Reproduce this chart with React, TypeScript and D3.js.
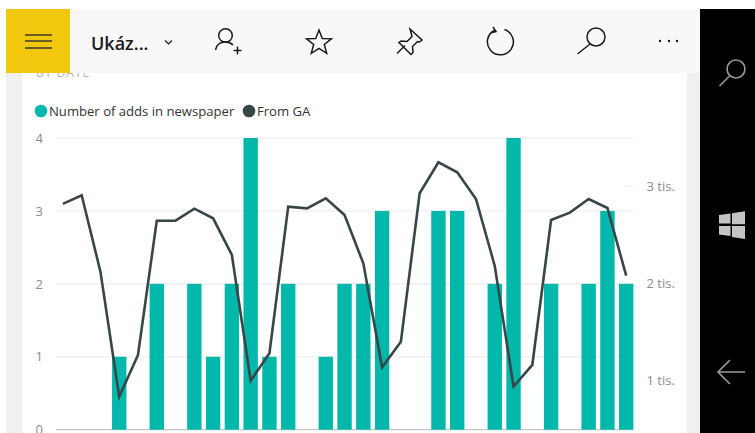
import * as d3 from "d3";
import { useEffect, useRef } from "react";

// values
const days = d3.range(1, 32);
const adds = [0, 0, 0, 1, 0, 2, 0, 2, 1, 2, 4, 1, 2, 0, 1, 2, 2, 3, 0, 0, 3, 3, 0, 2, 4, 0, 2, 0, 2, 3, 2];
const fromGA = [
  2818, 2907, 2120, 831, 1261, 2645, 2645, 2769, 2670, 2292, 996, 1278, 2790, 2773, 2876, 2704,
  2206, 1134, 1398, 2928, 3247, 3144, 2869, 2178, 934, 1158, 2653, 2728, 2869, 2776, 2078,
];
const leftTicks = [0, 1, 2, 3, 4];
const rightTicks = [1000, 2000, 3000];
const legendNames = ["Number of adds in newspaper", "From GA"];

const TEAL = "#01B8AA";
const DARK = "#374649";
const FONT = "'Open Sans', 'Noto Sans', sans-serif";

function App() {
  const ref = useRef<SVGSVGElement>(null);

  useEffect(() => {
    const svg = d3.select(ref.current);
    svg.selectAll("*").remove();

    const top = 138;
    const bottom = 429.7;

    // Scales
    const x = d3.scaleBand<number>().domain(days).range([53.5, 635.6]).paddingInner(0.235).paddingOuter(0.1175);
    const y = d3.scaleLinear().domain([0, 4]).range([bottom, top]);
    const y2 = d3.scaleLinear().domain([490, 3498]).range([bottom, top]);

    // page background panels
    svg.append("rect").attr("width", 755).attr("height", 433).attr("fill", "#fff");
    svg.append("rect").attr("x", 6).attr("y", 9).attr("width", 694).attr("height", 424).attr("fill", "#f0f0f0");
    svg.append("rect").attr("x", 22).attr("y", 60).attr("width", 665).attr("height", 373).attr("fill", "#fff");

    // clipped card title under the app bar
    svg.append("text").attr("x", 36).attr("y", 76.5).attr("font-family", FONT).attr("font-size", 12)
      .attr("letter-spacing", 1).attr("fill", "#b5b5b5").text("BY DATE");

    // Left axis + gridlines
    const leftAxis = d3.axisLeft(y).tickValues(leftTicks).tickSize(0).tickPadding(0).tickFormat(d3.format("d"));
    const gl = svg.append("g").attr("transform", "translate(43,0)").call(leftAxis);
    gl.select(".domain").remove();
    gl.selectAll("text").attr("font-family", FONT).attr("font-size", 13).attr("fill", "#8c8c8c");

    svg.append("g").selectAll("line").data(leftTicks.slice(1)).enter().append("line")
      .attr("x1", 56).attr("x2", 633)
      .attr("y1", (d) => y(d)).attr("y2", (d) => y(d))
      .attr("stroke", "#f0f0f0").attr("stroke-width", 1.5);
    svg.append("line").attr("x1", 56).attr("x2", 633).attr("y1", y(0)).attr("y2", y(0))
      .attr("stroke", "#b8b8b8").attr("stroke-width", 1);

    // short stub of the right axis gridline
    svg.append("line").attr("x1", 625).attr("x2", 633).attr("y1", y2(3000)).attr("y2", y2(3000))
      .attr("stroke", "#ececec").attr("stroke-width", 1.5);

    // Right axis
    const rightAxis = d3.axisRight(y2).tickValues(rightTicks).tickSize(0).tickPadding(0)
      .tickFormat((d) => `${+d / 1000} tis.`);
    const gr = svg.append("g").attr("transform", "translate(646.5,0)").call(rightAxis);
    gr.select(".domain").remove();
    gr.selectAll("text").attr("font-family", FONT).attr("font-size", 13).attr("fill", "#8c8c8c");

    // Bars
    svg.append("g").selectAll("rect").data(days.filter((_, i) => adds[i] > 0)).enter().append("rect")
      .attr("x", (d) => x(d) as number)
      .attr("width", x.bandwidth())
      .attr("y", (d) => y(adds[d - 1]))
      .attr("height", (d) => bottom - y(adds[d - 1]))
      .attr("fill", TEAL);

    // Line
    const line = d3.line<number>()
      .x((d) => (x(d) as number) + x.bandwidth() / 2)
      .y((d) => y2(fromGA[d - 1]));
    svg.append("path").datum(days).attr("d", line).attr("fill", "none")
      .attr("stroke", DARK).attr("stroke-width", 2.6).attr("stroke-linejoin", "miter");

    // Legend
    const legendX = [41, 249];
    const legendColors = [TEAL, DARK];
    legendNames.forEach((name, i) => {
      svg.append("circle").attr("cx", legendX[i]).attr("cy", 111).attr("r", 6.3).attr("fill", legendColors[i]);
      svg.append("text").attr("x", legendX[i] + 8).attr("y", 116).attr("font-family", FONT)
        .attr("font-size", 13.1).attr("fill", "#333").text(name);
    });

    // App bar
    svg.append("rect").attr("x", 6).attr("y", 9).attr("width", 694).attr("height", 64).attr("fill", "#f8f8f8");
    svg.append("rect").attr("x", 6).attr("y", 9).attr("width", 64).attr("height", 64).attr("fill", "#F2C80F");
    [35, 41, 48].forEach((yy) => {
      svg.append("line").attr("x1", 25).attr("x2", 52).attr("y1", yy).attr("y2", yy)
        .attr("stroke", "#3a3a2a").attr("stroke-width", 1.5);
    });
    svg.append("text").attr("x", 91).attr("y", 50).attr("font-family", FONT).attr("font-size", 18)
      .attr("font-weight", 600).attr("fill", "#1a1a1a").text("Ukáz...");

    const icons = svg.append("g").attr("fill", "none").attr("stroke", "#1a1a1a").attr("stroke-width", 1.5);
    icons.append("path").attr("d", "M165 40.5l3.5 3.5 3.5-3.5").attr("stroke-width", 1.2);
    icons.append("circle").attr("cx", 225.5).attr("cy", 35.5).attr("r", 6.8);
    icons.append("path").attr("d", "M215.5 50c1-5.5 5-8 10-8 3 0 5.5 1 7.5 3M233.5 50.5h8M237.5 46.5v8");
    icons.append("path").attr("d", "M319 30l3.3 8.4 9.1.4-7.1 5.7 2.4 8.8-7.7-5-7.7 5 2.4-8.8-7.1-5.7 9.1-.4z");
    icons.append("path").attr("d", "M397 53.5l8-8M410 29l12 11-2.5 2-2-.5-5 5 .5 6-2 2-12-12 2-1.5 6 .5 5-5-.5-2z");
    icons.append("path").attr("d", "M495 30a13 13 0 1 0 9.5-.5M493 27l3 4.5-5.5 1.5");
    icons.append("circle").attr("cx", 596).attr("cy", 37).attr("r", 9);
    icons.append("path").attr("d", "M590 44l-12.5 10");
    svg.append("g").selectAll("circle").data([660, 669, 677]).enter().append("circle")
      .attr("cx", (d) => d).attr("cy", 41).attr("r", 1.2).attr("fill", "#1a1a1a");

    // Phone nav bar
    svg.append("rect").attr("x", 700).attr("y", 9).attr("width", 55).attr("height", 424).attr("fill", "#000");
    const nav = svg.append("g").attr("fill", "none").attr("stroke", "#9a9a9a").attr("stroke-width", 1.6);
    nav.append("circle").attr("cx", 736).attr("cy", 69).attr("r", 9);
    nav.append("path").attr("d", "M729.5 76l-10 10");
    nav.append("path").attr("d", "M745 372h-26M730 360l-12 12 12 12");
    svg.append("path").attr("d", "M719 215l11.5-1.6v10.1H719zM732 213.2l13-1.9v12.9h-13zM719 226h11.5v10L719 234.4zM732 226h13v13l-13-1.9z")
      .attr("fill", "#c4c4c4");

    return () => {
      svg.selectAll("*").remove();
    };
  }, []);

  return (
    <svg
      ref={ref}
      width={755}
      height={433}
      style={{ position: "absolute", left: 0, top: 0, display: "block" }}
    />
  );
}

export default App;
